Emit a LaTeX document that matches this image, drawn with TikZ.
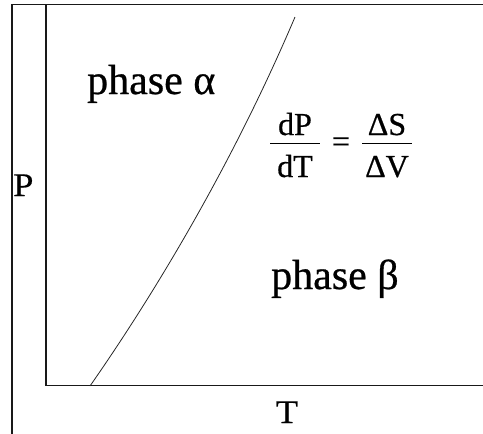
\documentclass[tikz,border=0pt]{standalone}
\usepackage{fontspec}
\setmainfont[FakeBold=0.6]{Liberation Serif}
\usetikzlibrary{positioning, calc}

\begin{document}
\begin{tikzpicture}[x=1pt,y=-1pt,
  axis/.style={line width=1.4pt, black!90},
  phase/.style={inner sep=0pt, anchor=base west, font=\fontsize{42}{42}\selectfont},
  axlabel/.style={inner sep=0pt, xscale=1.1, font=\fontsize{33}{33}\selectfont},
  fracpart/.style={inner sep=0pt, anchor=base, font=\fontsize{32}{32}\selectfont}]
  \useasboundingbox (0,0) rectangle (483,434);

  % Frame corners
  \coordinate (F1) at (12,434);
  \coordinate (F2) at (12,4.5);
  \coordinate (F3) at (483,4.5);

  % Axes
  \coordinate (Ptop) at (46,4.5);
  \coordinate (O) at (46,385.5);
  \coordinate (Tend) at (483,385.5);

  % Draw frame and axes
  \draw[axis] (F1) -- (F2) -- (F3);
  \draw[axis] (Ptop) -- (O) -- (Tend);

  % Coexistence curve
  \coordinate (C0) at (90,386);
  \coordinate (C1) at (295,17);
  \draw[line width=0.8pt, black!85] (C0) .. controls (150,300) and (230,170) .. (C1);

  % Phase labels
  \node[phase] (alpha) at (87,94) {phase α};
  \node[phase] (beta) at (271,289) {phase β};

  % Axis labels
  \node[axlabel, anchor=base west] (Plabel) at (13,196) {P};
  \node[axlabel, anchor=base] (Tlabel) at (287,423) {T};

  % Clapeyron relation
  \node[fracpart] (dP) at (295,135) {dP};
  \node[fracpart] (dT) at (295,177) {dT};
  \node[fracpart] (eq) at (341,152) {=};
  \node[fracpart] (dS) at (387,135) {ΔS};
  \node[fracpart] (dV) at (387,177) {ΔV};
  \draw[line width=1pt] (270,143) -- (320,143);
  \draw[line width=1pt] (362,143) -- (412,143);
\end{tikzpicture}
\end{document}
